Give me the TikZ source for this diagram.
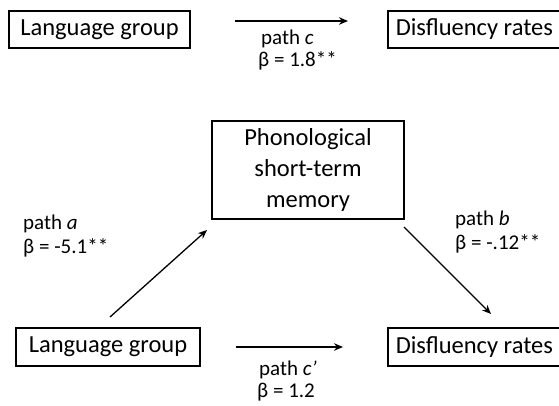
\documentclass[tikz,border=0pt]{standalone}
\usepackage{fontspec}
\setmainfont{Carlito}
\usetikzlibrary{arrows.meta}
\begin{document}
\begin{tikzpicture}[x=1pt,y=-1pt,
  box/.style={draw, line width=1.6pt, inner ysep=0pt, font=\fontsize{24.5}{31}\selectfont},
  lab/.style={font=\fontsize{21}{25}\selectfont, anchor=base west, inner sep=0pt},
  conn/.style={line width=1.3pt, -{Stealth[length=9pt,width=7.5pt]}}]
\useasboundingbox (0,0) rectangle (559,406);
\clip (0,0) rectangle (559,406);
% top row
\node[box, minimum width=181pt, minimum height=37pt] (tl) at (99.5,29.5) {Language group};
\node[box, anchor=west, inner xsep=8pt, minimum height=37pt] (tr) at (387,29.5) {Disfluency rates};
\coordinate (c1) at (235,21);
\coordinate (c2) at (348,21);
\draw[conn] (c1) -- (c2);
\node[lab] (lc1) at (261,45) {path \textit{c}};
\node[lab] (lc2) at (258,67) {β = 1.8**};
% middle
\node[box, minimum width=192pt, minimum height=98pt, align=center] (m) at (308,170) {Phonological\\short-term\\memory};
% bottom row
\node[box, minimum width=184pt, minimum height=38pt] (bl) at (108,347) {Language group};
\node[box, anchor=west, inner xsep=8pt, minimum height=38pt] (br) at (387,347) {Disfluency rates};
\coordinate (a1) at (110,317);
\coordinate (a2) at (207,230);
\draw[conn] (a1) -- (a2);
\coordinate (b1) at (404,227);
\coordinate (b2) at (491,314);
\draw[conn] (b1) -- (b2);
\coordinate (d1) at (236,347);
\coordinate (d2) at (343,347);
\draw[conn] (d1) -- (d2);
\node[lab] (la1) at (23,229) {path \textit{a}};
\node[lab] (la2) at (23,253) {β = -5.1**};
\node[lab] (lb1) at (455,225) {path \textit{b}};
\node[lab] (lb2) at (455,249) {β = -.12**};
\node[lab] (ld1) at (259,375) {path \textit{c’}};
\node[lab] (ld2) at (257,397) {β = 1.2};
\end{tikzpicture}
\end{document}
